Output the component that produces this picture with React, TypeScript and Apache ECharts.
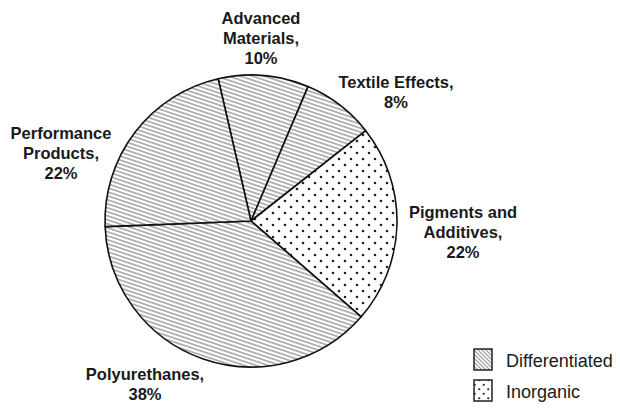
import React, { useEffect, useRef } from "react";
import * as echarts from "echarts";

const categories = [
  "Advanced\nMaterials",
  "Textile Effects",
  "Pigments and\nAdditives",
  "Polyurethanes",
  "Performance\nProducts",
];
const shares = [10, 8, 22, 38, 22];
const groups = ["Differentiated", "Differentiated", "Inorganic", "Differentiated", "Differentiated"];
const legendItems = ["Differentiated", "Inorganic"];

const labelPos: [number, number][] = [
  [261, 38],
  [396, 92],
  [463, 232],
  [145, 384],
  [61, 153],
];

const FONT = '"Liberation Sans", Arial, Helvetica, sans-serif';

function makeHatch(w: number, h: number, color: string, lw: number): HTMLCanvasElement {
  const c = document.createElement("canvas");
  c.width = w;
  c.height = h;
  const ctx = c.getContext("2d")!;
  ctx.fillStyle = "#fff";
  ctx.fillRect(0, 0, w, h);
  ctx.strokeStyle = color;
  ctx.lineWidth = lw;
  for (const o of [-h, 0, h]) {
    ctx.beginPath();
    ctx.moveTo(-w, o - h);
    ctx.lineTo(2 * w, o + 2 * h);
    ctx.stroke();
  }
  return c;
}
function makeDots(s: number, r: number): HTMLCanvasElement {
  const c = document.createElement("canvas");
  c.width = s;
  c.height = s;
  const ctx = c.getContext("2d")!;
  ctx.fillStyle = "#fff";
  ctx.fillRect(0, 0, s, s);
  ctx.fillStyle = "#222";
  for (const [x, y] of [
    [s / 4, s / 4],
    [(3 * s) / 4, (3 * s) / 4],
  ]) {
    ctx.beginPath();
    ctx.arc(x, y, r, 0, Math.PI * 2);
    ctx.fill();
  }
  return c;
}

export default function App() {
  const ref = useRef<HTMLDivElement>(null);
  useEffect(() => {
    if (!ref.current) return;
    const chart = echarts.init(ref.current, undefined, { renderer: "svg" });
    const pieHatch = makeHatch(12, 4, "#b0b0b0", 1.7);
    const pieDots = makeDots(12, 1.3);
    const boxHatch = makeHatch(4, 4, "#9a9a9a", 1.2);
    const boxDots = makeDots(9, 1.1);
    const data = categories.map((name, i) => ({
      name,
      value: shares[i],
      itemStyle: {
        color: {
          image: groups[i] === "Inorganic" ? pieDots : pieHatch,
          repeat: "repeat",
        },
      },
    }));
    const legendGraphics: any[] = [];
    legendItems.forEach((item, i) => {
      const y = 349 + i * 31;
      legendGraphics.push({
        type: "rect",
        shape: { x: 474, y, width: 18, height: 21 },
        style: {
          fill: { image: item === "Inorganic" ? boxDots : boxHatch, repeat: "repeat" },
          stroke: "#222",
          lineWidth: 1.5,
        },
      });
      legendGraphics.push({
        type: "text",
        x: 506,
        y: y + 12,
        style: {
          text: item,
          fill: "#1a1a1a",
          font: `18px ${FONT}`,
          textVerticalAlign: "middle",
        },
      });
    });
    chart.setOption({
      animation: false,
      backgroundColor: "#ffffff",
      series: [
        {
          type: "pie",
          center: [251, 221],
          radius: 146,
          startAngle: 103,
          clockwise: true,
          silent: true,
          data,
          itemStyle: { borderColor: "#111", borderWidth: 1.6 },
          label: {
            show: true,
            position: "outside",
            overflow: "none",
            formatter: (p: any) => `${p.name},\n${p.value}%`,
            color: "#1a1a1a",
            fontFamily: FONT,
            fontWeight: "bold",
            fontSize: 16.5,
            lineHeight: 20,
            align: "center",
          },
          labelLine: { show: false },
          labelLayout: (p: any) => ({
            x: labelPos[p.dataIndex][0],
            y: labelPos[p.dataIndex][1],
            align: "center",
            verticalAlign: "middle",
          }),
        },
      ],
      graphic: legendGraphics,
    });
    return () => chart.dispose();
  }, []);
  return (
    <div
      ref={ref}
      style={{ position: "fixed", left: 0, top: 0, width: 620, height: 408 }}
    />
  );
}
